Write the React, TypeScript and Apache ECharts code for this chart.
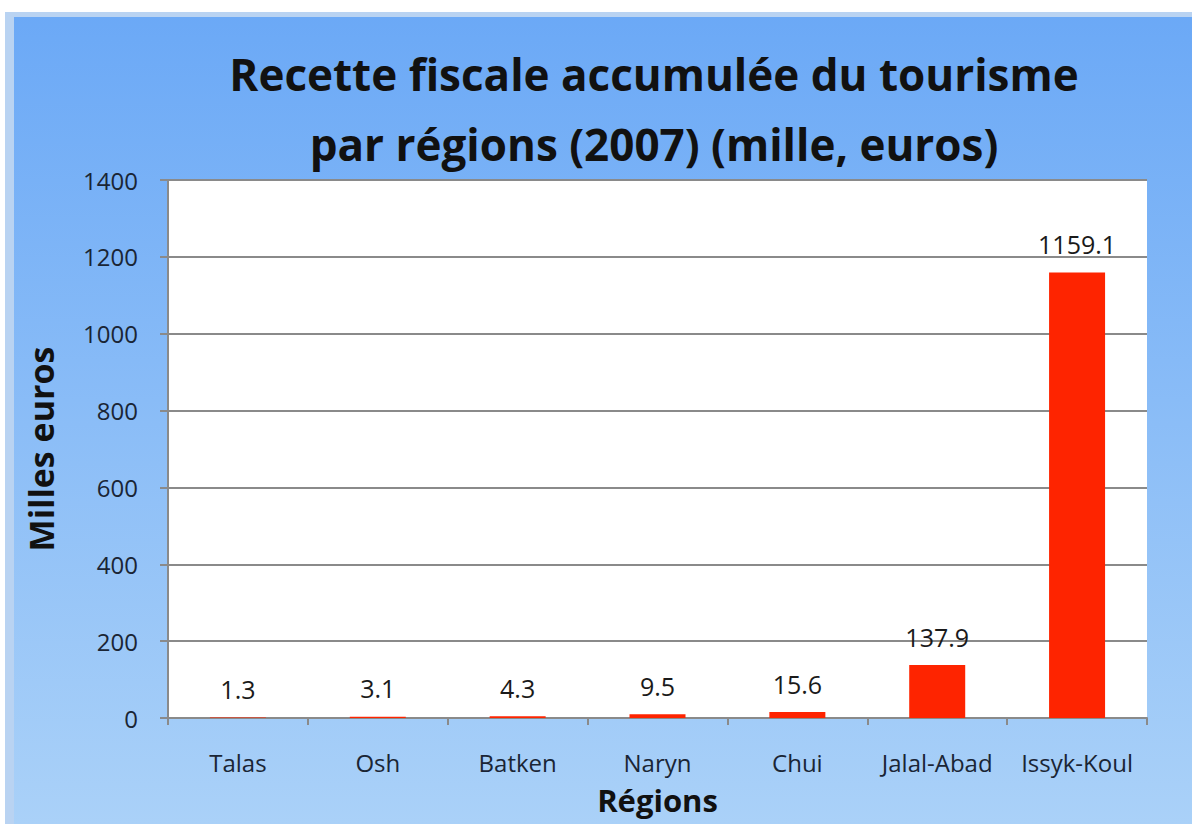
import React, { useEffect, useRef } from "react";
import * as echarts from "echarts";

const categories = ["Talas", "Osh", "Batken", "Naryn", "Chui", "Jalal-Abad", "Issyk-Koul"];
const values = [1.3, 3.1, 4.3, 9.5, 15.6, 137.9, 1159.1];
const titleLines = ["Recette fiscale accumulée du tourisme", "par régions (2007) (mille, euros)"];
const yAxisName = "Milles euros";
const xAxisName = "Régions";

const FONT = "'Open Sans', Lato, sans-serif";

export default function App() {
  const ref = useRef<HTMLDivElement>(null);
  useEffect(() => {
    if (!ref.current) return;
    const chart = echarts.init(ref.current, undefined, { renderer: "svg" });
    chart.setOption({
      animation: false,
      backgroundColor: new echarts.graphic.LinearGradient(0, 0, 0, 1, [
        { offset: 0, color: "#6aa8f6" },
        { offset: 1, color: "#aad1f8" },
      ]),
      graphic: [
        { type: "rect", shape: { x: 0, y: 0, width: 1192, height: 17 }, style: { fill: "#b9d3f2" }, silent: true },
        { type: "rect", shape: { x: 0, y: 0, width: 14, height: 824 }, style: { fill: "#b9d3f2" }, silent: true },
        { type: "rect", shape: { x: 0, y: 0, width: 1192, height: 12 }, style: { fill: "#ffffff" }, silent: true },
        { type: "rect", shape: { x: 0, y: 0, width: 5, height: 824 }, style: { fill: "#ffffff" }, silent: true },
        {
          type: "text",
          x: 654,
          y: 39,
          silent: true,
          style: {
            text: titleLines.join("\n"),
            align: "center",
            verticalAlign: "top",
            fontFamily: FONT,
            fontWeight: "bold",
            fontSize: 44,
            lineHeight: 70,
            fill: "#111",
          },
        },
      ],
      grid: {
        left: 168,
        right: 45,
        top: 180,
        bottom: 106,
        show: true,
        backgroundColor: "#ffffff",
        borderWidth: 0,
        containLabel: false,
        outerBoundsMode: "none",
      },
      xAxis: {
        type: "category",
        data: categories,
        name: xAxisName,
        nameLocation: "middle",
        nameGap: 66,
        nameTextStyle: { fontFamily: FONT, fontWeight: "bold", fontSize: 31, color: "#111" },
        axisLine: { lineStyle: { color: "#8a8a8a", width: 2 } },
        axisTick: { show: true, length: 7, lineStyle: { color: "#8a8a8a", width: 2 } },
        axisLabel: { fontFamily: FONT, fontSize: 24, color: "#1a2535", margin: 32, interval: 0 },
      },
      yAxis: {
        type: "value",
        min: 0,
        max: 1400,
        interval: 200,
        name: yAxisName,
        nameLocation: "middle",
        nameGap: 110,
        nameTextStyle: { fontFamily: FONT, fontWeight: "bold", fontSize: 34, color: "#111" },
        axisLine: { show: true, lineStyle: { color: "#8a8a8a", width: 2 } },
        axisTick: { show: true, length: 8, lineStyle: { color: "#8a8a8a", width: 2 } },
        axisLabel: {
          fontFamily: FONT,
          fontSize: 24,
          color: "#1a2535",
          margin: 30,
          formatter: (v: number) => String(v),
        },
        splitLine: { lineStyle: { color: "#8a8a8a", width: 2 } },
      },
      series: [
        {
          type: "bar",
          data: values,
          barWidth: 56,
          itemStyle: { color: "#fe2400" },
          label: {
            show: true,
            position: "top",
            distance: 16,
            fontFamily: FONT,
            fontSize: 25,
            color: "#1a1a1a",
          },
        },
      ],
    });
    return () => chart.dispose();
  }, []);
  return (
    <div
      ref={ref}
      style={{ position: "absolute", left: 0, top: 0, width: 1192, height: 824 }}
    />
  );
}
